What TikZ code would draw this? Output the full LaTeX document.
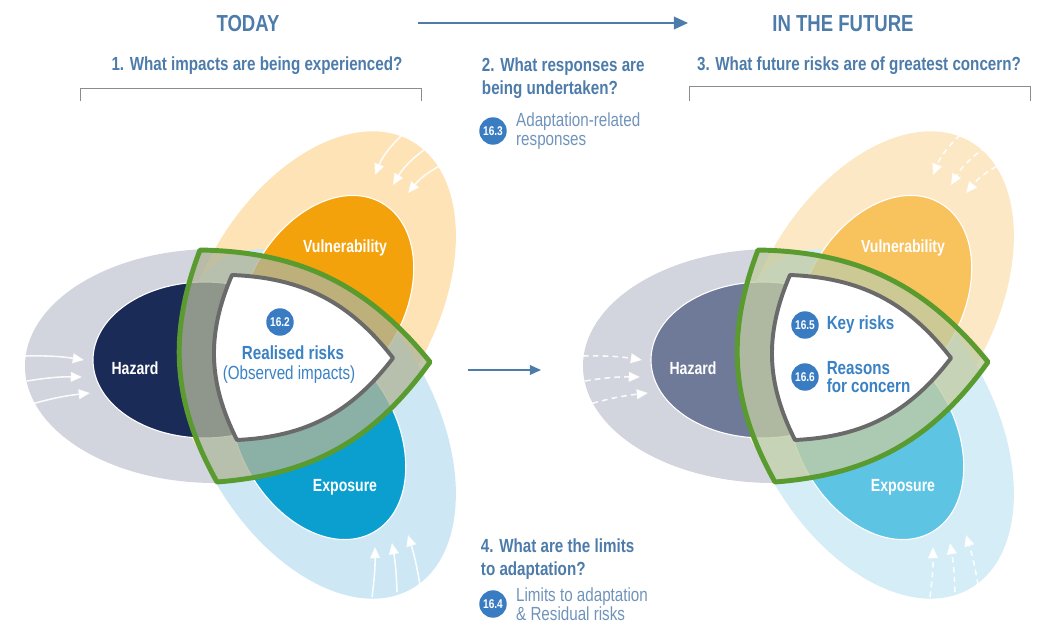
\documentclass[tikz,border=0pt]{standalone}
\usepackage{fontspec}
\setmainfont{Liberation Sans}[FakeStretch=0.8]
\usetikzlibrary{arrows.meta,positioning}

\definecolor{headblue}{HTML}{4D7CAB}
\definecolor{riskblue}{HTML}{3A82C4}
\definecolor{noteblue}{HTML}{6F93BA}
\definecolor{badgeblue}{HTML}{3A7CC2}
\definecolor{ringgreen}{HTML}{5A9B2F}
\definecolor{rimgray}{HTML}{6A6A6A}
\definecolor{hazring}{HTML}{D2D4DE}
\definecolor{vulring}{HTML}{FDE3B6}
\definecolor{expring}{HTML}{CDE8F4}
\definecolor{haznow}{HTML}{1B2B57}
\definecolor{vulnow}{HTML}{F4A20B}
\definecolor{expnow}{HTML}{0B9FD0}
\definecolor{bandnow}{HTML}{B0B59A}
\definecolor{vulringfut}{HTML}{FDE8C6}
\definecolor{expringfut}{HTML}{D5EDF7}
\definecolor{hazfut}{HTML}{6E7A98}
\definecolor{vulfut}{HTML}{F8C25C}
\definecolor{expfut}{HTML}{5EC4E3}
\definecolor{bandfut}{HTML}{C2CCA4}

\tikzset{
  head/.style={text=headblue, font=\fontsize{16.5}{19}\selectfont\bfseries},
  question/.style={text=headblue, font=\fontsize{13.5}{16.4}\selectfont\bfseries, align=left},
  bracket/.style={draw=gray!90, line width=0.7pt},
  timeline/.style={draw=headblue, line width=1.1pt, -{Triangle[length=10pt,width=9pt]}},
  stepline/.style={draw=headblue, line width=0.9pt, -{Triangle[length=8pt,width=7pt]}},
  badge/.style={circle, fill=badgeblue, text=white, inner sep=0pt, minimum size=19.5pt,
    font=\fontsize{9}{10}\selectfont\bfseries},
  risktext/.style={text=riskblue, font=\fontsize{13.5}{13}\selectfont\bfseries, align=left},
  note/.style={text=noteblue, font=\fontsize{13.5}{13.2}\selectfont, align=left},
  corelabel/.style={text=white, font=\fontsize{12.5}{14}\selectfont\bfseries},
  core/.style={draw=white, line width=0.8pt},
  hazout/.style={fill=hazring}, vulout/.style={fill=vulring}, expout/.style={fill=expring},
  hazin/.style={fill=haznow}, vulin/.style={fill=vulnow}, expin/.style={fill=expnow},
  band/.style={fill=bandnow, fill opacity=0.78, draw=ringgreen, line width=3.5pt, line join=round},
  risk/.style={fill=white, draw=rimgray, line width=2.8pt, line join=round},
  inflow/.style={draw=white, line width=1.1pt, draw opacity=0.9,
    -{Triangle[length=8pt,width=7pt]}},
  riskpanel/.pic={
    % outer rings
    \fill[hazout] (215,-366) ellipse [x radius=190, y radius=117];
    \fill[vulout, rotate around={60:(317,-306)}] (317,-306) ellipse [x radius=190, y radius=117];
    \fill[expout, rotate around={-60:(317,-424)}] (317,-424) ellipse [x radius=190, y radius=117];
    % cores
    \filldraw[core, hazin] (205,-360) ellipse [x radius=112, y radius=78];
    \filldraw[core, vulin, rotate around={60:(326,-300)}] (326,-300) ellipse [x radius=112, y radius=78];
    \filldraw[core, expin, rotate around={-60:(318,-435)}] (318,-435) ellipse [x radius=112, y radius=78];
    % drivers coming in
    \draw[inflow] (25,-356) to[bend left=5] (84,-360);
    \draw[inflow] (27,-381) to[bend left=5] (82,-377);
    \draw[inflow] (25,-406) to[bend left=5] (90,-393);
    \draw[inflow] (402,-135) to[bend right=12] (375,-175);
    \draw[inflow] (428,-147) to[bend right=12] (393,-185);
    \draw[inflow] (447,-162) to[bend right=12] (408,-193);
    \draw[inflow] (372,-597) to[bend right=4] (375,-547);
    \draw[inflow] (397,-592) to[bend right=4] (392,-543);
    \draw[inflow] (420,-585) to[bend right=4] (408,-535);
    % overlap of the three
    \filldraw[band] (200,-250) to[bend left=25] (430,-362) to[bend left=25] (217,-482) to[bend left=25] cycle;
    \filldraw[risk] (232,-275) to[bend left=25] (393,-358) to[bend left=25] (237,-440) to[bend left=25] cycle;
    \node[corelabel] (-haz) at (135,-368) {Hazard};
    \node[corelabel] (-vul) at (345,-248) {Vulnerability};
    \node[corelabel] (-exp) at (345,-487) {Exposure};
  }
}

\begin{document}
\begin{tikzpicture}[x=0.025cm, y=0.025cm]
  \useasboundingbox (0,0) rectangle (1060,-642);

  % headings and time arrow
  \node[head] (today) at (248,-24) {TODAY};
  \node[head] (future) at (843,-24) {IN THE FUTURE};
  \coordinate (arrS) at (418,-23);
  \coordinate (arrE) at (688,-23);
  \draw[timeline] (arrS) -- (arrE);

  % questions
  \node[question] (q1) at (257,-66) {1. What impacts are being experienced?};
  \node[question, anchor=west] (q2) at (477,-78) {2. What responses are\\being undertaken?};
  \node[question] (q3) at (859,-66) {3. What future risks are of greatest concern?};
  \node[question, anchor=west] (q4) at (476,-559) {4. What are the limits\\to adaptation?};
  \draw[bracket] (80,-101) |- (421,-88) -- (421,-101);
  \draw[bracket] (689,-101) |- (1030,-86) -- (1030,-101);

  % the two panels
  \begin{scope}
    \pic (now) at (0,0) {riskpanel};
  \end{scope}
  \begin{scope}[vulout/.style={fill=vulringfut}, expout/.style={fill=expringfut},
      hazin/.style={fill=hazfut}, vulin/.style={fill=vulfut}, expin/.style={fill=expfut},
      band/.append style={fill=bandfut},
      inflow/.append style={dash pattern=on 4pt off 3pt}]
    \pic (fut) at (558,0) {riskpanel};
  \end{scope}

  % centre texts
  \node[badge] (b162) at (280,-322) {16.2};
  \node[risktext] (realised) at (293,-353) {Realised risks};
  \node[risktext, font=\fontsize{13.5}{13}\selectfont] (observed) at (289,-375) {(Observed impacts)};
  \node[badge] (b165) at (805,-325) {16.5};
  \node[risktext, right=2pt of b165] (key) {Key risks};
  \node[badge] (b166) at (805,-377) {16.6};
  \node[risktext, right=2pt of b166] (reasons) {Reasons\\for concern};

  \coordinate (midS) at (468,-370);
  \coordinate (midE) at (541,-370);
  \draw[stepline] (midS) -- (midE);

  % chapter pointers
  \node[badge] (b163) at (493,-131) {16.3};
  \node[note, right=3pt of b163] (r163) {Adaptation-related\\responses};
  \node[badge] (b164) at (493,-604) {16.4};
  \node[note, right=3pt of b164] (r164) {Limits to adaptation\\\& Residual risks};
\end{tikzpicture}
\end{document}
